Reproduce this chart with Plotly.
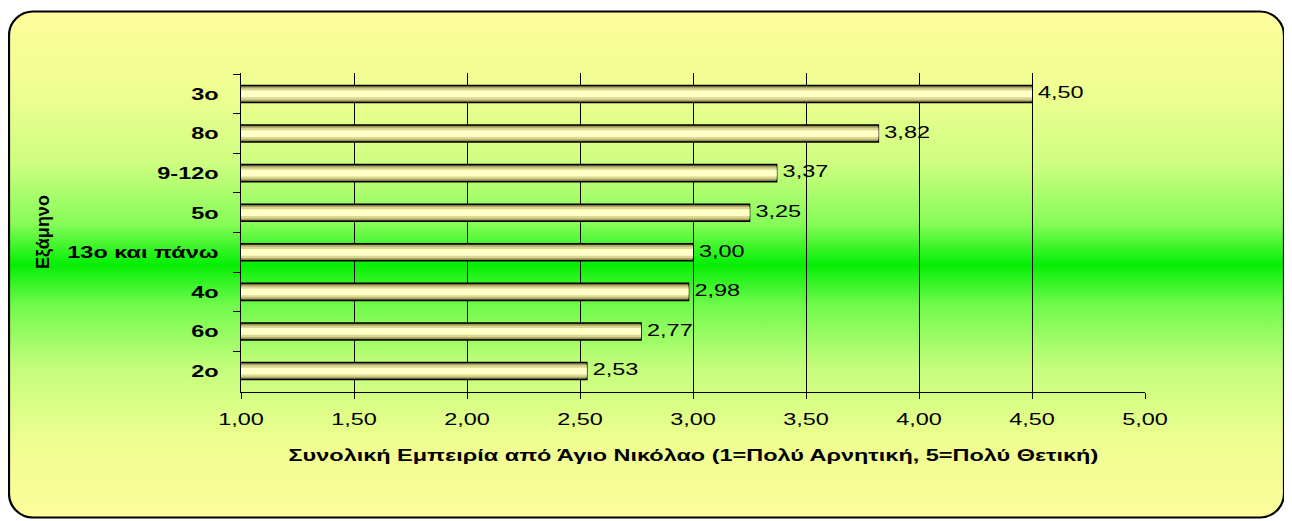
import base64
import json
import plotly.graph_objects as go

# ---- data (top to bottom as in the chart) ----
categories = ["3o", "8o", "9-12o", "5o", "13o και πάνω", "4o", "6o", "2o"]
values = [4.50, 3.82, 3.37, 3.25, 3.00, 2.98, 2.77, 2.53]
x_ticks = [1.0, 1.5, 2.0, 2.5, 3.0, 3.5, 4.0, 4.5, 5.0]
x_title = "Συνολική Εμπειρία από Άγιο Νικόλαο (1=Πολύ Αρνητική, 5=Πολύ Θετική)"
y_title = "Εξάμηνο"

# page has an 8px body margin; figure sized to fit the 1292x521 window
W, H = 1284, 513
L, T = 233, 65
pw, ph = 904, 319
R, B = W - L - pw, H - T - ph

FONT = "Liberation Sans, Arial, sans-serif"
FS = 17

# ---- background: rounded frame with yellow-green-yellow gradient ----
svg = f'''<svg xmlns="http://www.w3.org/2000/svg" width="{W}" height="{H}" viewBox="0 0 {W} {H}">
<defs><linearGradient id="g" x1="0" y1="0" x2="0" y2="1">
<stop offset="0" stop-color="#FDFD9B"/>
<stop offset="0.15" stop-color="#F0FE92"/>
<stop offset="0.3" stop-color="#CEFE80"/>
<stop offset="0.42" stop-color="#86FC58"/>
<stop offset="0.5" stop-color="#05EF05"/>
<stop offset="0.58" stop-color="#70FA4C"/>
<stop offset="0.7" stop-color="#C2FD7A"/>
<stop offset="0.85" stop-color="#EEFE90"/>
<stop offset="1" stop-color="#FDFD9B"/>
</linearGradient></defs>
<rect x="1" y="3.5" width="1275" height="506" rx="24" ry="24" fill="url(#g)" stroke="#000" stroke-width="2.2"/>
</svg>'''
src = "data:image/svg+xml;base64," + base64.b64encode(svg.encode("utf-8")).decode("ascii")

fig = go.Figure()

# layered bars to imitate the cylindrical shading
layers = [
    (0.43, "#6E6A3A", 1.6),
    (0.37, "#ABA564", 0),
    (0.29, "#DCD892", 0),
    (0.17, "#FFFFC6", 0),
]
for w, col, lw in layers:
    fig.add_trace(go.Bar(
        x=values, y=categories, orientation="h", width=w,
        marker=dict(color=col, line=dict(color="#000000", width=lw)),
        showlegend=False, hoverinfo="skip",
    ))

# value labels to the right of each bar
fig.add_trace(go.Scatter(
    x=values, y=categories, mode="markers+text",
    marker=dict(size=8, color="rgba(0,0,0,0)"),
    text=[f"{v:.2f}".replace(".", ",") for v in values],
    textposition="middle right",
    textfont=dict(family=FONT, size=FS, color="#000000"),
    cliponaxis=False, showlegend=False, hoverinfo="skip",
))

fig.update_layout(
    width=W, height=H,
    margin=dict(l=L, r=R, t=T, b=B, pad=0),
    barmode="overlay",
    separators=",.",
    paper_bgcolor="#FFFFFF",
    plot_bgcolor="rgba(0,0,0,0)",
    font=dict(family=FONT, size=FS, color="#000000"),
    images=[dict(
        source=src, xref="paper", yref="paper",
        x=-L / pw, y=1 + T / ph, sizex=W / pw, sizey=H / ph,
        xanchor="left", yanchor="top", sizing="stretch", layer="below",
    )],
    xaxis=dict(
        range=[1, 5], tickvals=x_ticks, tickformat=".2f",
        showgrid=True, gridcolor="#000000", gridwidth=1,
        showline=True, linecolor="#000000", linewidth=1,
        ticks="outside", ticklen=6, tickcolor="#000000",
        tickfont=dict(family=FONT, size=FS), ticklabelstandoff=6,
        zeroline=False, fixedrange=True,
    ),
    yaxis=dict(
        categoryorder="array", categoryarray=categories, autorange="reversed",
        showline=True, linecolor="#000000", linewidth=1,
        ticks="outside", ticklen=7, tickcolor="#000000", tickson="boundaries",
        tickfont=dict(family=FONT, size=FS, weight="bold"), ticklabelstandoff=18,
        showgrid=False, zeroline=False, fixedrange=True,
    ),
    annotations=[
        dict(text=x_title, xref="paper", yref="paper", x=0.5, y=-(447 - (T + ph)) / ph,
             xanchor="center", yanchor="middle", showarrow=False,
             font=dict(family=FONT, size=FS, weight="bold")),
        dict(text=y_title, xref="paper", yref="paper", x=-(L - 35.5) / pw, y=0.5,
             xanchor="center", yanchor="middle", showarrow=False, textangle=-90,
             font=dict(family=FONT, size=18, weight="bold")),
    ],
)

# the reference text is horizontally stretched: widen horizontal texts
post = """
var gd = document.getElementById('{plot_id}');
var S = 1.38, skip = %s;
gd.querySelectorAll('text').forEach(function(t){
  if (t.textContent === skip) return;
  var w; try { w = t.getComputedTextLength(); } catch(e) { return; }
  if (!w) return;
  t.setAttribute('textLength', (w * S).toFixed(2));
  t.setAttribute('lengthAdjust', 'spacingAndGlyphs');
});
""" % json.dumps(y_title)

fig.write_html("out.html", post_script=post)
